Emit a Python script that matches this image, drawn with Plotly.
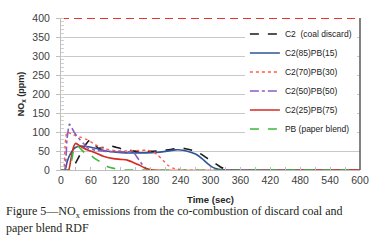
import plotly.graph_objects as go

# ---- data ----
t_c2 = [0, 20, 30, 40, 50, 58, 66, 75, 85, 97, 110, 121, 140, 160, 180, 200, 220, 237, 250, 263, 277, 290, 300, 310, 320, 330, 340, 600]
y_c2 = [0, 0, 20, 45, 68, 79, 70, 57, 60, 64, 60, 56, 51, 48, 49, 51, 54, 58, 56, 52, 45, 34, 25, 17, 8, 2, 0, 0]

t_85 = [0, 8, 12, 16, 20, 25, 30, 40, 50, 60, 75, 90, 110, 130, 150, 170, 190, 210, 230, 245, 260, 270, 283, 293, 302, 310, 316, 325, 335, 600]
y_85 = [0, 0, 20, 35, 45, 55, 60, 63, 62, 60, 55, 50, 47, 45, 45, 45, 46, 49, 53, 52, 47, 42, 30, 18, 9, 4, 2, 0.5, 0, 0]

t_70 = [0, 5, 8, 12, 20, 30, 40, 50, 60, 75, 90, 110, 130, 150, 170, 185, 195, 205, 215, 225, 235, 245, 600]
y_70 = [0, 0, 60, 100, 95, 90, 86, 81, 74, 62, 55, 51, 50, 51, 52, 48, 38, 25, 12, 5, 2, 0, 0]

t_50 = [0, 7, 12, 17, 22, 28, 35, 45, 55, 70, 90, 110, 130, 145, 152, 160, 167, 175, 600]
y_50 = [0, 0, 80, 120, 110, 96, 84, 70, 57, 52, 49, 48, 48, 47, 35, 20, 8, 0, 0]

t_25 = [0, 15, 20, 25, 29, 35, 45, 55, 70, 85, 105, 120, 133, 145, 157, 167, 177, 185, 600]
y_25 = [0, 0, 30, 60, 70, 66, 58, 52, 45, 36, 30, 28, 26, 20, 13, 6, 2, 0, 0]

t_pb = [0, 17, 22, 27, 32, 40, 48, 58, 68, 78, 87, 97, 107, 120, 130, 600]
y_pb = [0, 0, 30, 60, 65, 55, 45, 40, 30, 22, 13, 7, 4, 1, 0, 0]

t_top = [0, 600]
y_top = [400, 400]

series_names = ["C2  (coal discard)", "C2(85)PB(15)", "C2(70)PB(30)",
                "C2(50)PB(50)", "C2(25)PB(75)", "PB (paper blend)"]
x_ticks = [0, 60, 120, 180, 240, 300, 360, 420, 480, 540, 600]
y_ticks = [0, 50, 100, 150, 200, 250, 300, 350, 400]
caption_lines = ["Figure 5—NO<sub>x</sub> emissions from the co-combustion of discard coal and",
                 "paper blend RDF"]

fig = go.Figure()

fig.add_trace(go.Scatter(x=t_top, y=y_top, mode="lines", showlegend=False,
                         line=dict(color="#e8342c", width=2, dash="8px,5px"), hoverinfo="skip"))

styles = [
    (t_c2, y_c2, "#1a1a1a", "dash", 1.6),
    (t_85, y_85, "#2e5597", "solid", 1.6),
    (t_70, y_70, "#ff5a4a", "dot", 1.4),
    (t_50, y_50, "#8a5cc4", "dashdot", 1.6),
    (t_25, y_25, "#d42a22", "solid", 1.6),
    (t_pb, y_pb, "#3cb83c", "dash", 1.6),
]
for name, (tx, ty, col, dash, w) in zip(series_names, styles):
    fig.add_trace(go.Scatter(x=tx, y=ty, mode="lines", name=name,
                             line=dict(color=col, dash=dash, width=w, shape="spline", smoothing=0.6)))

cap_font = dict(family="Liberation Serif", size=12, color="#231f20")

fig.update_layout(
    width=381, height=245,
    margin=dict(l=61, r=18, t=15, b=75),
    paper_bgcolor="white", plot_bgcolor="white",
    font=dict(family="Liberation Sans", color="#404040"),
    showlegend=True,
    legend=dict(x=0.615, y=0.99, xanchor="left", yanchor="top",
                bgcolor="white", borderwidth=0,
                font=dict(size=8.5, color="#222222", family="Liberation Sans"),
                itemwidth=30, tracegroupgap=0),
    xaxis=dict(range=[0, 600], tickvals=x_ticks, ticks="inside", ticklen=3,
               tickcolor="#bfbfbf", showgrid=False, zeroline=False,
               showline=True, linecolor="#bfbfbf",
               minor=dict(dtick=30, ticks="inside", ticklen=3, tickcolor="#bfbfbf"),
               tickfont=dict(size=10.5, color="#404040"),
               title=dict(text="<b>Time (sec)</b>", font=dict(size=9.5, color="#262626"), standoff=11)),
    yaxis=dict(range=[0, 400], tickvals=y_ticks, ticks="outside", ticklen=4,
               tickcolor="#bfbfbf", showgrid=True, gridcolor="#c9c9c9", gridwidth=1,
               zeroline=False, showline=True, linecolor="#bfbfbf",
               minor=dict(dtick=10, ticks="inside", ticklen=3, tickcolor="#d0d0d0", showgrid=False),
               ticklabelstandoff=4,
               tickfont=dict(size=10.5, color="#404040"),
               title=dict(text="<b>NO<sub>x</sub> (ppm)</b>", font=dict(size=9, color="#262626"), standoff=6)),
    shapes=[dict(type="line", xref="paper", yref="paper", x0=1, x1=1, y0=0, y1=1,
                 line=dict(color="#595959", width=1.5))],
    annotations=[
        dict(text=caption_lines[0], xref="paper", yref="paper", x=-58/302, y=-43/155,
             xanchor="left", yanchor="middle", align="left", showarrow=False, font=cap_font),
        dict(text=caption_lines[1], xref="paper", yref="paper", x=-58/302, y=-59/155,
             xanchor="left", yanchor="middle", align="left", showarrow=False, font=cap_font),
    ],
)

fig.write_html("out.html", config={"displayModeBar": False},
               post_script="document.body.style.margin='0';")
